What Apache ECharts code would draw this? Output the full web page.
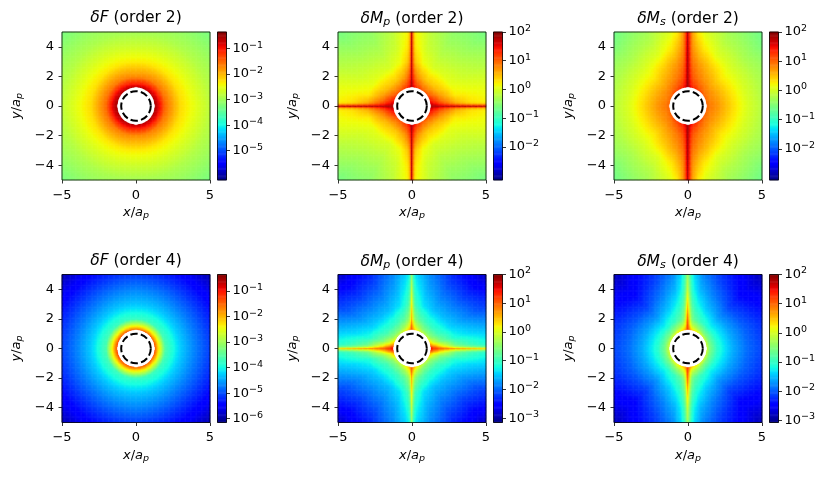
<!DOCTYPE html>
<html>
<head>
<meta charset="utf-8">
<script src="https://cdn.jsdelivr.net/npm/echarts@6/dist/echarts.min.js"></script>
<style>
  html, body { margin: 0; padding: 0; background: #fff; }
  #chart { width: 830px; height: 478px; }
</style>
</head>
<body>
<div id="chart"></div>
<script>
const radii = [1.25, 1.5, 2, 3, 4, 5, 7.1];

// log10 values, one row per radius, one column per angle (deg from the x axis)
const fOrd2Angles = [0, 45, 90];
const fOrd2Log = [
  [-0.53, -0.60, -0.65],
  [-0.77, -0.90, -1.05],
  [-1.52, -1.62, -1.75],
  [-2.21, -2.28, -2.33],
  [-2.50, -2.60, -2.68],
  [-2.79, -2.88, -2.97],
  [-3.15, -3.28, -3.30]
];

const mpOrd2Angles = [0, 5, 15, 30, 45, 60, 75, 85, 90];
const mpOrd2Log = [
  [1.74, 1.64, 1.49, 1.23, 1.07, 1.12, 1.28, 1.49, 1.59],
  [1.59, 1.49, 1.28, 0.97, 0.82, 0.87, 1.07, 1.28, 1.38],
  [1.23, 1.12, 0.82, 0.56, 0.46, 0.46, 0.66, 0.97, 1.07],
  [0.71, 0.56, 0.25, 0.09, 0.04, -0.01, 0.15, 0.46, 0.61],
  [0.40, 0.30, 0.15, -0.06, -0.16, -0.21, -0.06, 0.25, 0.40],
  [0.30, 0.20, 0.09, -0.16, -0.32, -0.37, -0.16, 0.15, 0.30],
  [0.15, 0.09, -0.06, -0.37, -0.62, -0.60, -0.37, -0.06, 0.09]
];
const mpOrd2RidgeX = [1.80, 1.80, 1.76, 1.74, 1.74, 1.74, 1.74];
const mpOrd2RidgeY = [1.80, 1.80, 1.76, 1.74, 1.74, 1.74, 1.74];

const msOrd2Angles = [0, 20, 40, 60, 75, 82, 86, 89];
const msOrd2Log = [
  [0.99, 0.99, 1.09, 1.24, 1.39, 1.49, 1.59, 1.70],
  [0.90, 0.84, 0.90, 1.05, 1.22, 1.37, 1.49, 1.65],
  [0.75, 0.70, 0.68, 0.80, 0.98, 1.15, 1.32, 1.54],
  [0.38, 0.33, 0.28, 0.48, 0.70, 0.88, 1.05, 1.39],
  [0.05, 0.02, 0.00, 0.07, 0.33, 0.60, 0.84, 1.24],
  [-0.18, -0.20, -0.25, -0.18, 0.07, 0.30, 0.68, 1.14],
  [-0.43, -0.48, -0.66, -0.53, -0.23, 0.04, 0.52, 0.99]
];
const msOrd2RidgeY = [1.85, 1.85, 1.82, 1.80, 1.80, 1.78, 1.78];

const fOrd4Angles = [0, 45, 90];
const fOrd4Log = [
  [-1.25, -1.35, -1.45],
  [-2.10, -2.25, -2.35],
  [-3.60, -3.70, -3.75],
  [-4.25, -4.30, -4.30],
  [-4.70, -4.75, -4.68],
  [-5.08, -5.15, -5.08],
  [-5.80, -5.92, -5.85]
];

const mpOrd4Angles = [0, 5, 15, 30, 45, 60, 75, 85, 90];
const mpOrd4Log = [
  [1.38, 1.23, 0.56, 0.04, -0.16, -0.06, 0.25, 0.56, 0.76],
  [1.07, 0.87, 0.04, -0.47, -0.58, -0.52, -0.21, 0.09, 0.35],
  [0.56, 0.20, -0.58, -0.94, -1.04, -0.99, -0.78, -0.47, -0.21],
  [-0.32, -0.68, -1.19, -1.45, -1.55, -1.55, -1.35, -0.99, -0.73],
  [-0.73, -0.99, -1.40, -1.76, -1.88, -1.86, -1.61, -1.24, -0.99],
  [-0.94, -1.19, -1.55, -2.05, -2.22, -2.15, -1.81, -1.45, -1.19],
  [-1.19, -1.40, -1.85, -2.50, -2.85, -2.70, -2.20, -1.71, -1.45]
];
const mpOrd4RidgeX = [1.49, 1.23, 0.97, 0.66, 0.46, 0.30, 0.09];
const mpOrd4RidgeY = [1.07, 0.97, 0.56, 0.20, -0.16, -0.47, -0.68];

const msOrd4Angles = [0, 20, 45, 65, 78, 84, 87, 89];
const msOrd4Log = [
  [-0.03, -0.03, 0.07, 0.28, 0.48, 0.68, 0.83, 0.99],
  [-0.54, -0.59, -0.54, -0.28, -0.03, 0.23, 0.48, 0.73],
  [-1.04, -1.09, -1.14, -0.94, -0.69, -0.38, -0.03, 0.38],
  [-1.55, -1.60, -1.70, -1.45, -1.14, -0.84, -0.54, -0.13],
  [-1.90, -1.95, -2.13, -1.80, -1.50, -1.19, -0.89, -0.54],
  [-2.11, -2.18, -2.42, -2.08, -1.75, -1.40, -1.09, -0.74],
  [-2.45, -2.60, -2.82, -2.50, -2.10, -1.70, -1.35, -0.94]
];
const msOrd4RidgeY = [1.24, 1.19, 0.99, 0.38, -0.13, -0.38, -0.54];

// colour ranges (log10) and colour bar ticks
const fRange = [-6.15, -0.35];
const mpRange = [-3.15, 2];
const msRange = [-3.07, 2];
const fOrd2Ticks = [-5, -4, -3, -2, -1];
const fOrd4Ticks = [-6, -5, -4, -3, -2, -1];
const mOrd2Ticks = [-2, -1, 0, 1, 2];
const mOrd4Ticks = [-3, -2, -1, 0, 1, 2];
const axisTicksX = [-5, 0, 5];
const axisTicksY = [-4, -2, 0, 2, 4];

// thin lines along the axes: blend weight vs distance from the axis
const ridgeDist = [0, 0.085, 0.17, 0.26];
const ridgeWeight = [1, 0.45, 0.12, 0];

const N = 121;            // cells per side of each map
const M = 128;            // cells along a colour bar
const holeRadius = 1.25;  // white disk
const ringRadius = 1.0;   // dashed circle

// matplotlib "jet"
const jetRed = [[0, 0], [0.35, 0], [0.66, 1], [0.89, 1], [1, 0.5]];
const jetGreen = [[0, 0], [0.125, 0], [0.375, 1], [0.64, 1], [0.91, 0], [1, 0]];
const jetBlue = [[0, 0.5], [0.11, 1], [0.34, 1], [0.65, 0], [1, 0]];

const FONT = 'DejaVu Sans';

function interp1(xs, ys, x) {
  if (x <= xs[0]) return ys[0];
  if (x >= xs[xs.length - 1]) return ys[ys.length - 1];
  let i = 1;
  while (xs[i] < x) i++;
  const f = (x - xs[i - 1]) / (xs[i] - xs[i - 1]);
  return ys[i - 1] + f * (ys[i] - ys[i - 1]);
}

function segInterp(seg, t) {
  return interp1(seg.map(s => s[0]), seg.map(s => s[1]), t);
}

const jetColors = [];
for (let k = 0; k <= 64; k++) {
  const t = k / 64;
  const c = [jetRed, jetGreen, jetBlue].map(s => Math.round(segInterp(s, t) * 255));
  jetColors.push('rgb(' + c.join(',') + ')');
}

const panels = [
  { name: 'F', sub: '', order: 2, angles: fOrd2Angles, table: fOrd2Log, ridgeX: null, ridgeY: null, range: fRange, ticks: fOrd2Ticks },
  { name: 'M', sub: 'p', order: 2, angles: mpOrd2Angles, table: mpOrd2Log, ridgeX: mpOrd2RidgeX, ridgeY: mpOrd2RidgeY, range: mpRange, ticks: mOrd2Ticks },
  { name: 'M', sub: 's', order: 2, angles: msOrd2Angles, table: msOrd2Log, ridgeX: null, ridgeY: msOrd2RidgeY, range: msRange, ticks: mOrd2Ticks },
  { name: 'F', sub: '', order: 4, angles: fOrd4Angles, table: fOrd4Log, ridgeX: null, ridgeY: null, range: fRange, ticks: fOrd4Ticks },
  { name: 'M', sub: 'p', order: 4, angles: mpOrd4Angles, table: mpOrd4Log, ridgeX: mpOrd4RidgeX, ridgeY: mpOrd4RidgeY, range: mpRange, ticks: mOrd4Ticks },
  { name: 'M', sub: 's', order: 4, angles: msOrd4Angles, table: msOrd4Log, ridgeX: null, ridgeY: msOrd4RidgeY, range: msRange, ticks: mOrd4Ticks }
];

const colLeft = [62, 338, 614];
const rowTop = [32, 274.5];
const plotSize = 148;
const cbGap = 155.5;
const cbWidth = 9;

function fieldAt(p, x, y) {
  const r = Math.hypot(x, y);
  const a = Math.atan2(Math.abs(y), Math.abs(x)) * 180 / Math.PI;
  const rowVals = p.table.map(row => interp1(p.angles, row, a));
  let v = interp1(radii, rowVals, r);
  if (p.ridgeX) {
    const w = interp1(ridgeDist, ridgeWeight, Math.abs(y));
    const rv = interp1(radii, p.ridgeX, r);
    if (w > 0 && rv > v) v += w * (rv - v);
  }
  if (p.ridgeY) {
    const w = interp1(ridgeDist, ridgeWeight, Math.abs(x));
    const rv = interp1(radii, p.ridgeY, r);
    if (w > 0 && rv > v) v += w * (rv - v);
  }
  return Math.min(p.range[1], Math.max(p.range[0], v));
}

const numLabel = v => (v < 0 ? '\u2212' + Math.abs(v) : String(v));
const powLabel = v => '{b|10}{p|' + numLabel(Math.round(v)) + '}';

const nameRich = {
  i: { fontFamily: FONT, fontSize: 13, fontStyle: 'italic', color: '#000' },
  n: { fontFamily: FONT, fontSize: 13, color: '#000' },
  s: { fontFamily: FONT, fontSize: 9.5, fontStyle: 'italic', color: '#000', padding: [6, 0, 0, 0] }
};
const titleRich = {
  i: { fontFamily: FONT, fontSize: 15.5, fontStyle: 'italic', fontWeight: 'normal', color: '#000' },
  n: { fontFamily: FONT, fontSize: 15.5, fontWeight: 'normal', color: '#000' },
  s: { fontFamily: FONT, fontSize: 11, fontStyle: 'italic', fontWeight: 'normal', color: '#000', padding: [7, 0, 0, 0] }
};
const powRich = {
  b: { fontFamily: FONT, fontSize: 13, color: '#000' },
  p: { fontFamily: FONT, fontSize: 9.5, color: '#000', padding: [0, 0, 7, 0] }
};

const grid = [], xAxis = [], yAxis = [], series = [], visualMap = [], title = [];
const idx = [];
for (let i = 0; i < N; i++) idx.push(i);
const cbIdx = [];
for (let k = 0; k < M; k++) cbIdx.push(k);

panels.forEach((p, k) => {
  const left = colLeft[k % 3];
  const top = rowTop[Math.floor(k / 3)];
  const g = grid.length;

  // map cells
  const cells = [];
  const step = 10 / N;
  for (let i = 0; i < N; i++) {
    for (let j = 0; j < N; j++) {
      const x = -5 + (i + 0.5) * step;
      const y = -5 + (j + 0.5) * step;
      if (Math.hypot(x, y) < holeRadius) continue;
      cells.push([i, j, fieldAt(p, x, y)]);
    }
  }

  // colour bar cells
  const bar = [];
  for (let m = 0; m < M; m++) {
    bar.push([0, m, p.range[0] + (m + 0.5) * (p.range[1] - p.range[0]) / M]);
  }

  // grid g: map heatmap, g+1: frame/axes, g+2: colour bar heatmap, g+3: colour bar frame/axis
  const box = { left: left, top: top, width: plotSize, height: plotSize };
  const cbBox = { left: left + cbGap, top: top, width: cbWidth, height: plotSize };
  const frame = { show: true, borderColor: '#000', borderWidth: 0.8, backgroundColor: 'transparent', z: 10 };
  grid.push(Object.assign({}, box));
  grid.push(Object.assign({}, frame, box));
  grid.push(Object.assign({}, cbBox));
  grid.push(Object.assign({}, frame, cbBox));

  xAxis.push({ gridIndex: g, type: 'category', data: idx, show: false });
  yAxis.push({ gridIndex: g, type: 'category', data: idx, show: false });

  const tickStyle = { show: true, length: 3.5, lineStyle: { color: '#000', width: 0.8 } };
  xAxis.push({
    gridIndex: g + 1, type: 'value', min: -5, max: 5, position: 'bottom',
    axisLine: { show: false, onZero: false }, splitLine: { show: false },
    axisTick: Object.assign({ customValues: axisTicksX }, tickStyle),
    axisLabel: { customValues: axisTicksX, formatter: numLabel, color: '#000', fontFamily: FONT, fontSize: 13, margin: 9 },
    name: '{i|x}{n|/}{i|a}{s|p}', nameLocation: 'middle', nameGap: 25,
    nameTextStyle: { rich: nameRich }
  });
  yAxis.push({
    gridIndex: g + 1, type: 'value', min: -5, max: 5, position: 'left',
    axisLine: { show: false, onZero: false }, splitLine: { show: false },
    axisTick: Object.assign({ customValues: axisTicksY }, tickStyle),
    axisLabel: { customValues: axisTicksY, formatter: numLabel, color: '#000', fontFamily: FONT, fontSize: 13, margin: 8 },
    name: '{i|y}{n|/}{i|a}{s|p}', nameLocation: 'middle', nameGap: 37, nameRotate: 90,
    nameTextStyle: { rich: nameRich }
  });

  xAxis.push({ gridIndex: g + 2, type: 'category', data: [0], show: false });
  yAxis.push({ gridIndex: g + 2, type: 'category', data: cbIdx, show: false });

  xAxis.push({ gridIndex: g + 3, type: 'value', min: 0, max: 1, show: false, axisLine: { onZero: false } });
  yAxis.push({
    gridIndex: g + 3, type: 'value', min: p.range[0], max: p.range[1], position: 'right',
    axisLine: { show: false, onZero: false }, splitLine: { show: false },
    axisTick: Object.assign({ customValues: p.ticks }, tickStyle),
    axisLabel: { customValues: p.ticks, formatter: powLabel, rich: powRich, color: '#000', fontFamily: FONT, fontSize: 13, margin: 6 }
  });

  const s = series.length;
  series.push({
    type: 'heatmap', xAxisIndex: g, yAxisIndex: g, data: cells,
    progressive: 0, silent: true, emphasis: { disabled: true }
  });
  series.push({
    type: 'custom', xAxisIndex: g + 1, yAxisIndex: g + 1, data: [[0, 0]], silent: true, z: 5,
    renderItem: function (params, api) {
      const c = api.coord([api.value(0), api.value(1)]);
      const rh = api.size([holeRadius, holeRadius])[0];
      const rr = api.size([ringRadius, ringRadius])[0];
      return {
        type: 'group', children: [
          { type: 'circle', shape: { cx: c[0], cy: c[1], r: rh }, style: { fill: '#fff', stroke: null } },
          { type: 'circle', shape: { cx: c[0], cy: c[1], r: rr }, style: { fill: null, stroke: '#000', lineWidth: 2, lineDash: [7.4, 3.2] } }
        ]
      };
    }
  });
  series.push({
    type: 'heatmap', xAxisIndex: g + 2, yAxisIndex: g + 2, data: bar,
    progressive: 0, silent: true, emphasis: { disabled: true }
  });

  visualMap.push({
    type: 'continuous', show: false, seriesIndex: [s, s + 2], dimension: 2,
    min: p.range[0], max: p.range[1], inRange: { color: jetColors }
  });

  const titleText = '{i|\u03B4' + p.name + '}' + (p.sub ? '{s|' + p.sub + '}' : '') + '{n| (order ' + p.order + ')}';
  title.push({
    text: titleText, left: left + plotSize / 2, top: top - 22, textAlign: 'center',
    padding: 0, textStyle: { fontWeight: 'normal', rich: titleRich }
  });
});

const chart = echarts.init(document.getElementById('chart'), null, { renderer: 'canvas' });
chart.setOption({
  animation: false,
  backgroundColor: '#fff',
  title: title,
  grid: grid,
  xAxis: xAxis,
  yAxis: yAxis,
  visualMap: visualMap,
  series: series
});
window.addEventListener('resize', function () { chart.resize(); });
</script>
</body>
</html>
